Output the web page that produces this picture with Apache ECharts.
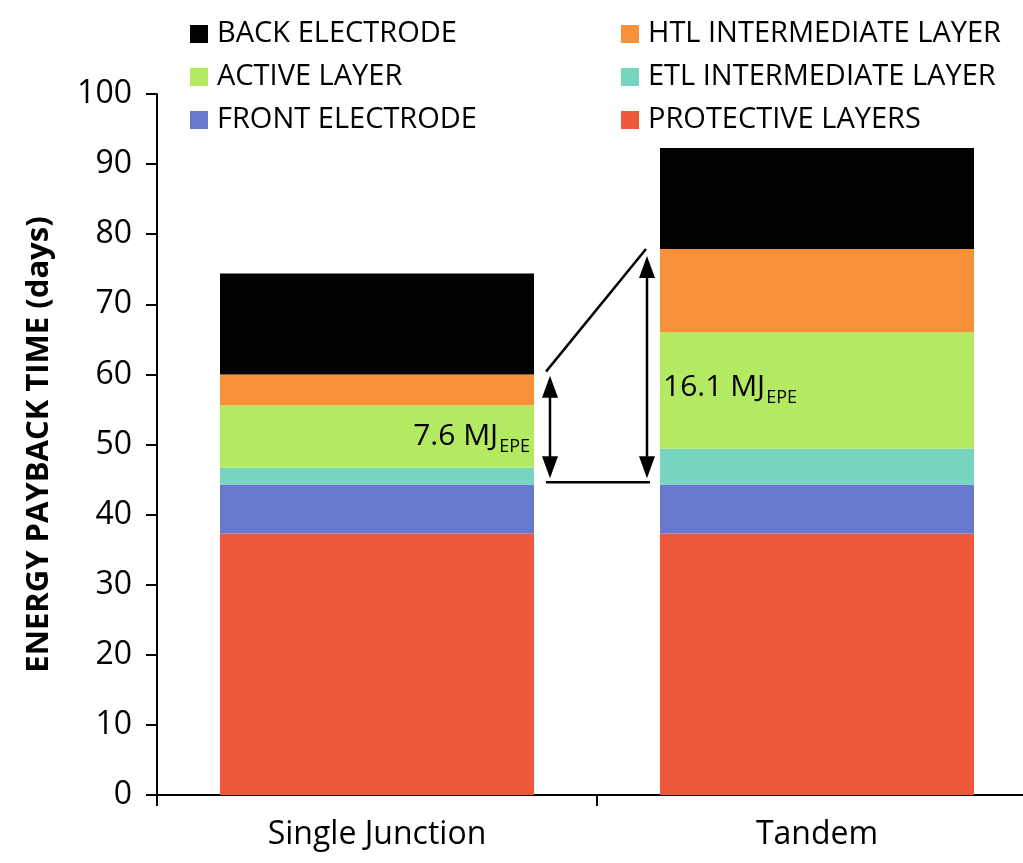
<!DOCTYPE html>
<html>
<head>
<meta charset="utf-8">
<script src="https://cdn.jsdelivr.net/npm/echarts@6/dist/echarts.min.js"></script>
<style>
  html, body { margin: 0; padding: 0; background: #fff; overflow: hidden; }
  #main { width: 1037px; height: 863px; }
</style>
</head>
<body>
<div id="main"></div>
<script>
// categories and stacked layer values (days)
const categories = ['Single Junction', 'Tandem'];
const protectiveLayers = [37.3, 37.3];
const frontElectrode = [7.0, 7.0];
const etlLayer = [2.4, 5.1];
const activeLayer = [8.9, 16.6];
const htlLayer = [4.4, 11.9];
const backElectrode = [14.4, 14.4];

// annotation values
const epeLabels = ['7.6 MJ', '16.1 MJ'];
const arrowTops = [59.8, 76.9];
const arrowBottom = 45.2;
const baseLine = 44.6;
const slantEnds = [60.4, 77.9];

const font = 'Open Sans';

const chart = echarts.init(document.getElementById('main'));

const seriesDefs = [
  { name: 'PROTECTIVE LAYERS', data: protectiveLayers, color: '#EE593C' },
  { name: 'FRONT ELECTRODE', data: frontElectrode, color: '#6679CF' },
  { name: 'ETL INTERMEDIATE LAYER', data: etlLayer, color: '#75D5BE' },
  { name: 'ACTIVE LAYER', data: activeLayer, color: '#B4EA62' },
  { name: 'HTL INTERMEDIATE LAYER', data: htlLayer, color: '#F7923A' },
  { name: 'BACK ELECTRODE', data: backElectrode, color: '#000000' }
];

const legendBase = {
  orient: 'vertical',
  top: 14,
  itemWidth: 18,
  itemHeight: 18,
  itemGap: 13,
  icon: 'rect',
  selectedMode: false,
  textStyle: { fontFamily: font, fontSize: 29, color: '#000', lineHeight: 30, padding: [0, 0, 0, 4] }
};

chart.setOption({
  animation: false,
  backgroundColor: '#fff',
  grid: { left: 157, right: 0, top: 94, bottom: 68 },
  legend: [
    Object.assign({}, legendBase, { left: 185, data: ['BACK ELECTRODE', 'ACTIVE LAYER', 'FRONT ELECTRODE'] }),
    Object.assign({}, legendBase, { left: 616, data: ['HTL INTERMEDIATE LAYER', 'ETL INTERMEDIATE LAYER', 'PROTECTIVE LAYERS'] })
  ],
  xAxis: {
    type: 'category',
    data: categories,
    axisLine: { lineStyle: { color: '#000', width: 2 } },
    axisTick: { show: true, length: 11, lineStyle: { color: '#000', width: 2 } },
    axisLabel: { fontFamily: font, fontSize: 32, color: '#000', margin: 24 }
  },
  yAxis: {
    type: 'value',
    min: 0,
    max: 100,
    interval: 10,
    name: 'ENERGY PAYBACK TIME (days)',
    nameLocation: 'middle',
    nameGap: 102,
    nameTextStyle: { fontFamily: font, fontSize: 31, fontWeight: 'bold', color: '#000' },
    axisLine: { show: true, lineStyle: { color: '#000', width: 2 } },
    axisTick: { show: true, length: 11, lineStyle: { color: '#000', width: 2 } },
    axisLabel: { fontFamily: font, fontSize: 32, color: '#000', margin: 25 },
    splitLine: { show: false }
  },
  series: seriesDefs.map(s => ({
    name: s.name,
    type: 'bar',
    stack: 'total',
    barWidth: 314,
    data: s.data,
    itemStyle: { color: s.color },
    emphasis: { disabled: true }
  }))
});

// annotations placed through the axes
const yPx = v => chart.convertToPixel({ yAxisIndex: 0 }, v);
const xPx = i => chart.convertToPixel({ xAxisIndex: 0 }, categories[i]);
const half = 157;
const sjRight = xPx(0) + half;
const tdLeft = xPx(1) - half;

function arrow(x, top, bottom) {
  const h = 22, w = 8;
  return [
    { type: 'line', shape: { x1: x, y1: top + h - 2, x2: x, y2: bottom - h + 2 }, style: { stroke: '#000', lineWidth: 2.5 } },
    { type: 'polygon', shape: { points: [[x, top], [x - w, top + h], [x + w, top + h]] }, style: { fill: '#000' } },
    { type: 'polygon', shape: { points: [[x, bottom], [x - w, bottom - h], [x + w, bottom - h]] }, style: { fill: '#000' } }
  ];
}

const rich = {
  a: { fontFamily: font, fontSize: 30, color: '#111' },
  b: { fontFamily: font, fontSize: 18, color: '#111', padding: [22, 0, 0, 1] }
};

const graphics = [].concat(
  arrow(sjRight + 16, yPx(arrowTops[0]), yPx(arrowBottom)),
  arrow(tdLeft - 13, yPx(arrowTops[1]), yPx(arrowBottom)),
  [
    { type: 'line', shape: { x1: sjRight + 12, y1: yPx(baseLine), x2: tdLeft - 10, y2: yPx(baseLine) }, style: { stroke: '#000', lineWidth: 2.5 } },
    { type: 'line', shape: { x1: sjRight + 12, y1: yPx(slantEnds[0]), x2: tdLeft - 14, y2: yPx(slantEnds[1]) }, style: { stroke: '#000', lineWidth: 2.5 } },
    { type: 'text', z: 10, style: { x: sjRight - 4, y: yPx(51.2), text: '{a|' + epeLabels[0] + '}{b|EPE}', rich: rich, align: 'right', verticalAlign: 'middle' } },
    { type: 'text', z: 10, style: { x: tdLeft + 3, y: yPx(58.2), text: '{a|' + epeLabels[1] + '}{b|EPE}', rich: rich, align: 'left', verticalAlign: 'middle' } }
  ]
);

chart.setOption({ graphic: graphics });
</script>
</body>
</html>
